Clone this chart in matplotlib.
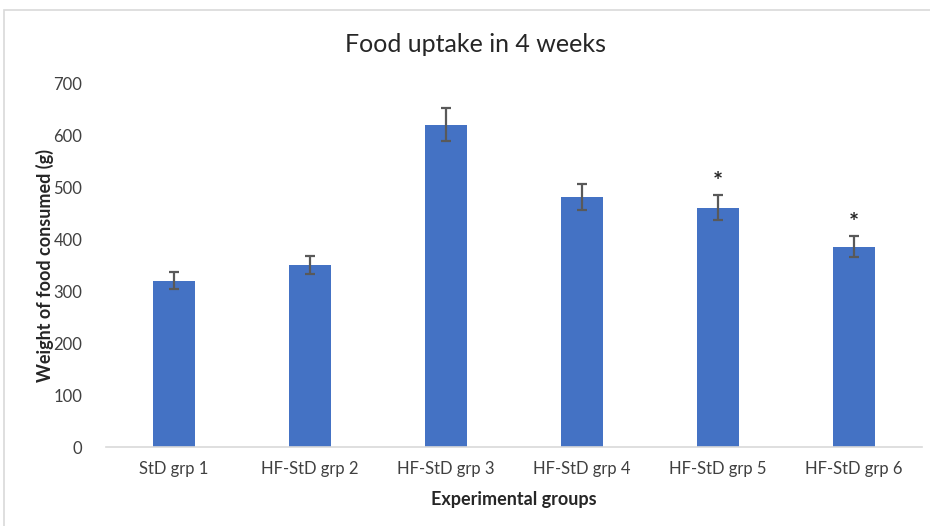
import numpy as np
import matplotlib.pyplot as plt
from matplotlib.patches import Rectangle

plt.rcParams['font.family'] = ['Lato', 'DejaVu Sans']

grupy = ["StD grp 1", "HF-StD grp 2", "HF-StD grp 3", "HF-StD grp 4", "HF-StD grp 5", "HF-StD grp 6"]
wartosci = [320, 350, 620, 480, 460, 385]   # waga zjedzonej karmy (g)
bledy = [16, 18, 31, 25, 24, 20]
gwiazdki = ["", "", "", "", "*", "*"]

fig = plt.figure(figsize=(9.3, 5.26), dpi=100)
ax = fig.add_axes([106/930, 1-447/526, 816/930, 364/526])

x = np.arange(len(grupy))
ax.bar(x, wartosci, width=0.313, color="#4472C4", zorder=2)
ax.errorbar(x, wartosci, yerr=bledy, fmt="none", ecolor="#595959",
            elinewidth=1.6, capsize=3.5, capthick=1.6, zorder=3)

for xi, w, b, g in zip(x, wartosci, bledy, gwiazdki):
    if g:
        ax.text(xi, w + b + 24, g, ha="center", va="center",
                fontsize=17, fontweight="bold", color="#262626")

ax.set_xlim(-0.5, len(grupy) - 0.5)
ax.set_ylim(0, 700)
ax.set_yticks(range(0, 701, 100))
ax.set_xticks(x)
ax.set_xticklabels(grupy)
ax.tick_params(axis="both", length=0, labelsize=12, colors="#404040")
ax.tick_params(axis="y", pad=17)
ax.tick_params(axis="x", pad=10)

for s in ["top", "right", "left"]:
    ax.spines[s].set_visible(False)
ax.spines["bottom"].set_color("#D9D9D9")
ax.spines["bottom"].set_linewidth(1.2)

ax.set_xlabel("Experimental groups", fontsize=13, fontweight="bold", color="#262626", labelpad=10)
ax.set_ylabel("Weight of food consumed (g)", fontsize=13, fontweight="bold", color="#262626", labelpad=0)

fig.text(475/930, 1-45/526, "Food uptake in 4 weeks", ha="center", va="center",
         fontsize=18, color="#262626")

# ramka wykresu (widoczna tylko z lewej i u góry)
fig.patches.append(Rectangle((4/930, -0.1), 1.2, 1.1 - 10/526, transform=fig.transFigure,
                             fill=False, edgecolor="#D9D9D9", linewidth=1.2))

fig.savefig("out.png", dpi=100)
